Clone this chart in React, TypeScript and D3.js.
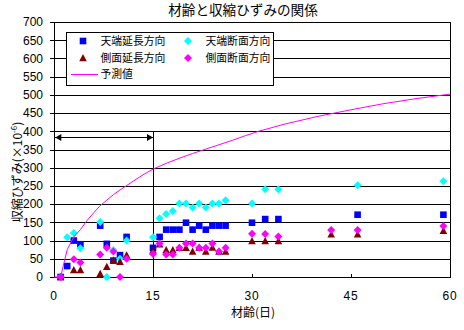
import React from "react";
import * as d3 from "d3";

// ---- data ----
const xTickValues = [0, 15, 30, 45, 60];
const yTickValues = [0, 50, 100, 150, 200, 250, 300, 350, 400, 450, 500, 550, 600, 650, 700];

const seriesNames = ["天端延長方向", "天端断面方向", "側面延長方向", "側面断面方向", "予測値"];
const seriesColors = ["#0000FF", "#00FFFF", "#800000", "#FF00FF", "#FF00FF"];

// 天端延長方向 [day, strain]
const topLongitudinal: [number, number][] = [
  [1, 0], [2, 30], [3, 100], [4, 90], [7, 141], [8, 91], [9, 45], [10, 60], [11, 110],
  [15, 80], [16, 110], [17, 130], [18, 130], [19, 130], [20, 149], [21, 130], [22, 141],
  [23, 130], [24, 141], [25, 141], [26, 141], [30, 149], [32, 159], [34, 159], [46, 171], [59, 171],
];
// 天端断面方向
const topSection: [number, number][] = [
  [1, 0], [2, 109], [3, 121], [4, 79], [7, 151], [8, 0], [9, 74], [10, 50], [11, 100],
  [15, 109], [16, 161], [17, 173], [18, 181], [19, 202], [20, 202], [21, 191], [22, 202],
  [23, 191], [24, 202], [25, 202], [26, 211], [30, 202], [32, 241], [34, 241], [46, 252], [59, 263],
];
// 側面延長方向
const sideLongitudinal: [number, number][] = [
  [1, 0], [3, 19], [4, 19], [7, 9], [8, 28], [9, 46], [10, 42], [11, 60],
  [15, 73], [16, 90], [17, 74], [18, 74], [19, 80], [20, 80], [21, 70], [22, 81],
  [23, 70], [24, 81], [25, 70], [26, 70], [30, 99], [32, 99], [34, 99], [42, 117], [46, 117], [59, 127],
];
// 側面断面方向
const sideSection: [number, number][] = [
  [1, 0], [3, 49], [4, 40], [7, 62], [8, 80], [9, 70], [10, 0], [11, 50],
  [15, 63], [16, 92], [17, 62], [18, 62], [19, 80], [20, 92], [21, 92], [22, 80],
  [23, 80], [24, 92], [25, 70], [26, 80], [30, 119], [32, 118], [34, 111], [42, 129], [46, 129], [59, 140],
];
// 予測値
const predDays = [0, 1, 2, 3, 4, 5, 6, 7, 8, 9, 10, 11, 12, 13, 14, 15, 17, 19, 21, 23, 25, 27, 29, 31, 35, 40, 45, 50, 55, 60];
const predValues = [0, 0, 75, 110, 130, 155, 176, 196, 211, 226, 239, 251, 263, 275, 286, 296, 312, 326, 339, 351, 363, 375, 388, 400, 420, 441, 459, 476, 490, 502];

// annotation (period 0-15 days)
const markDay = 15;
const markTop = 400;
const arrowValue = 384;
const arrowStartDay = 0.2;

const W = 464;
const H = 330;
const M = { left: 54, right: 450, top: 22, bottom: 277 };

const x = d3.scaleLinear().domain([0, 60]).range([M.left, M.right]);
const y = d3.scaleLinear().domain([0, 700]).range([M.bottom, M.top]);

const JP = "'MS PGothic', 'Noto Sans CJK JP', sans-serif";
const NUM = "'Liberation Sans', Arial, sans-serif";

function Marker({ kind, cx, cy, color }: { kind: number; cx: number; cy: number; color: string }) {
  if (kind === 0) {
    const s = 3.3;
    return <rect x={cx - s} y={cy - s} width={2 * s} height={2 * s} fill={color} />;
  }
  if (kind === 2) {
    const p = d3.path();
    p.moveTo(cx, cy - 4);
    p.lineTo(cx + 3.8, cy + 3.2);
    p.lineTo(cx - 3.8, cy + 3.2);
    p.closePath();
    return <path d={p.toString()} fill={color} />;
  }
  const r = 4;
  const p = d3.path();
  p.moveTo(cx, cy - r);
  p.lineTo(cx + r, cy);
  p.lineTo(cx, cy + r);
  p.lineTo(cx - r, cy);
  p.closePath();
  return <path d={p.toString()} fill={color} />;
}

export default function App() {
  const scatter = [topLongitudinal, topSection, sideLongitudinal, sideSection];
  const line = d3
    .line<number>()
    .x((_, i) => x(predDays[i]))
    .y((d) => y(d));
  const legendX = [83, 188];
  const legendY = [41, 58, 74];

  const ax = x(arrowStartDay);
  const bx = x(markDay);
  const ay = y(arrowValue);

  return (
    <svg
      width={W}
      height={H}
      style={{ position: "absolute", left: 0, top: 0, background: "#fff" }}
      shapeRendering="crispEdges"
    >
      <rect x={0} y={0} width={W} height={H} fill="#fff" />
      {/* title */}
      <text x={243} y={15} textAnchor="middle" fontFamily={JP} fontSize={13.6} fill="#000">
        材齢と収縮ひずみの関係
      </text>
      {/* gridlines */}
      {yTickValues.map((v) => (
        <line key={"g" + v} x1={M.left} x2={M.right} y1={Math.round(y(v)) + 0.5} y2={Math.round(y(v)) + 0.5} stroke="#000" strokeWidth={1} />
      ))}
      {/* plot border */}
      <rect x={M.left + 0.5} y={Math.round(M.top) + 0.5} width={M.right - M.left} height={Math.round(M.bottom) - Math.round(M.top)} fill="none" stroke="#000" />
      {/* y ticks + labels */}
      {yTickValues.map((v) => (
        <g key={"yt" + v}>
          <line x1={M.left - 4} x2={M.left} y1={Math.round(y(v)) + 0.5} y2={Math.round(y(v)) + 0.5} stroke="#000" />
          <text x={43} y={y(v) + 4.3} textAnchor="end" fontFamily={NUM} fontSize={12} fill="#000">
            {v}
          </text>
        </g>
      ))}
      {/* x ticks + labels */}
      {xTickValues.map((v) => (
        <g key={"xt" + v}>
          <line x1={Math.round(x(v)) + 0.5} x2={Math.round(x(v)) + 0.5} y1={M.bottom - 3} y2={M.bottom} stroke="#000" />
          <text x={x(v)} y={300} textAnchor="middle" fontFamily={NUM} fontSize={12} letterSpacing={0.8} fill="#000">
            {v}
          </text>
        </g>
      ))}
      {/* axis titles */}
      <text x={253} y={317} textAnchor="middle" fontFamily={JP} fontSize={12} fill="#000">
        材齢(日)
      </text>
      <text
        transform={`translate(22, ${172}) rotate(-90)`}
        textAnchor="middle"
        fontFamily={JP}
        fontSize={12}
        fill="#000"
      >
        収縮ひずみ(×10
        <tspan fontSize={8} dy={-5}>-6</tspan>
        <tspan dy={5}>)</tspan>
      </text>
      {/* annotation */}
      <line x1={Math.round(bx) + 0.5} x2={Math.round(bx) + 0.5} y1={y(markTop)} y2={M.bottom} stroke="#000" />
      <line x1={ax} x2={bx} y1={Math.round(ay) + 0.5} y2={Math.round(ay) + 0.5} stroke="#000" />
      <path d={`M${ax},${ay + 0.5} l6,-3.5 l0,7 z`} fill="#000" shapeRendering="auto" />
      <path d={`M${bx},${ay + 0.5} l-6,-3.5 l0,7 z`} fill="#000" shapeRendering="auto" />
      {/* scatter */}
      <g shapeRendering="auto">
        {scatter.map((ser, si) =>
          ser.map(([d, v], i) => (
            <Marker key={si + "-" + i} kind={si} cx={x(d)} cy={y(v)} color={seriesColors[si]} />
          ))
        )}
      </g>
      {/* predicted line */}
      <path d={line(predValues) || ""} fill="none" stroke={seriesColors[4]} strokeWidth={1} shapeRendering="auto" />
      {/* legend */}
      <rect x={66.5} y={32.5} width={207} height={53} fill="#fff" stroke="#000" />
      {[0, 1, 2, 3].map((si) => {
        const col = si % 2;
        const row = Math.floor(si / 2);
        return (
          <g key={"lg" + si}>
            <g shapeRendering="auto">
              <Marker kind={si} cx={legendX[col]} cy={legendY[row]} color={seriesColors[si]} />
            </g>
            <text x={legendX[col] + 17.5} y={legendY[row] + 4} fontFamily={JP} fontSize={10.8} letterSpacing={0} fill="#000">
              {seriesNames[si]}
            </text>
          </g>
        );
      })}
      <line x1={71} x2={98} y1={legendY[2] + 0.5} y2={legendY[2] + 0.5} stroke={seriesColors[4]} />
      <text x={legendX[0] + 17.5} y={legendY[2] + 4} fontFamily={JP} fontSize={10.8} fill="#000">
        {seriesNames[4]}
      </text>
    </svg>
  );
}
